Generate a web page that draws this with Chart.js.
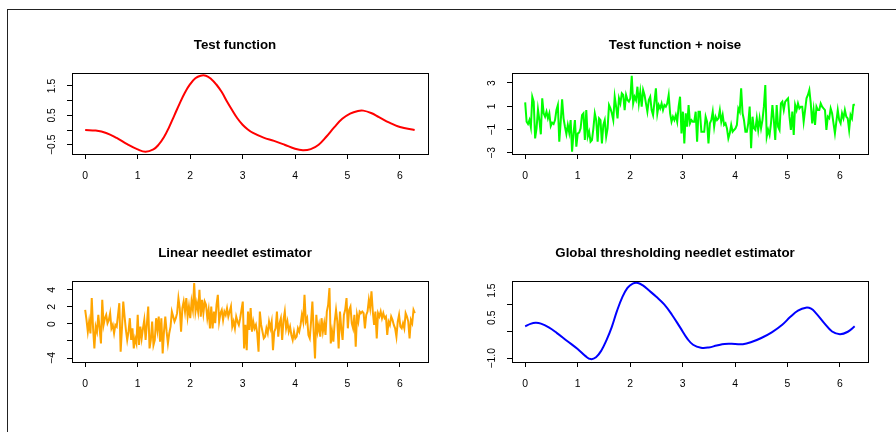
<!DOCTYPE html>
<html>
<head>
<meta charset="utf-8">
<title>Needlet estimators</title>
<script src="https://cdn.jsdelivr.net/npm/chart.js@4.4.0/dist/chart.umd.min.js"></script>
<style>
  html, body { margin: 0; padding: 0; background: #fff; }
  #page { position: relative; width: 896px; height: 432px; overflow: hidden; }
  #page canvas { position: absolute; }
  #edge { position: absolute; left: 7px; top: 9px; right: -4px; bottom: -4px;
          border-top: 1px solid #222; border-left: 1px solid #222; }
</style>
</head>
<body>
<div id="page">
  <div id="edge"></div>
  <canvas id="testFn" width="448" height="216" style="left:0;top:0"></canvas>
  <canvas id="noisyFn" width="448" height="216" style="left:440px;top:0"></canvas>
  <canvas id="linearFn" width="448" height="216" style="left:0;top:208px"></canvas>
  <canvas id="globalFn" width="448" height="216" style="left:440px;top:208px"></canvas>
</div>
<script>
// x axis of every panel
const xTicks = [0, 1, 2, 3, 4, 5, 6];
const xMin = -0.2513, xMax = 6.5345;

// Test function (smooth, red)
const testX = [0, 0.2, 0.4, 0.6, 0.8, 1.0, 1.15, 1.3, 1.4, 1.5, 1.6, 1.7, 1.8, 1.9, 2.0, 2.1, 2.2, 2.3, 2.4, 2.5,
  2.6, 2.7, 2.8, 2.9, 3.0, 3.1, 3.2, 3.4, 3.6, 3.8, 4.0, 4.15, 4.3, 4.45, 4.6, 4.75, 4.9, 5.05, 5.2, 5.3,
  5.45, 5.6, 5.8, 6.0, 6.28];
const testY = [0.0, -0.02, -0.1, -0.27, -0.48, -0.66, -0.74, -0.66, -0.5, -0.25, 0.1, 0.5, 0.9, 1.27, 1.56, 1.76, 1.85, 1.85, 1.74, 1.55,
  1.3, 0.98, 0.68, 0.4, 0.18, 0.02, -0.1, -0.26, -0.37, -0.5, -0.64, -0.69, -0.65, -0.5, -0.22, 0.1, 0.38, 0.56, 0.65, 0.66,
  0.58, 0.44, 0.25, 0.1, 0.0];
const testYTicks = [-0.5, 0, 0.5, 1, 1.5];
const testYLabels = [-0.5, 0.5, 1.5];

// Test function + noise (green), samples evenly spread over [0, 2*pi]
const noisyY = [1.34, -0.32, -0.52, -0.18, -0.80, 1.82, 1.40, -1.75, -0.89, 0.74,
  -0.18, -1.40, 1.68, 0.40, 0.11, 0.54, -0.03, 0.40, -0.69, -0.40,
  -0.52, -0.18, 0.68, 1.11, -2.03, -0.32, 1.60, -0.03, -0.75, -1.38,
  -0.60, -1.26, -0.18, -2.89, -1.32, -0.18, -2.46, -1.32, -1.26, -0.89,
  0.25, 0.40, -1.89, 0.68, -1.60, -1.18, -2.03, -1.89, -0.89, 0.40,
  -0.18, -2.03, -0.03, -0.18, -2.18, -0.60, -0.18, -1.60, -0.89, 1.11,
  0.82, 0.40, -0.18, 1.82, 0.97, -0.03, 1.68, 1.25, 2.11, 1.97,
  0.68, 1.97, 1.54, 1.40, 1.68, 3.62, 1.25, 1.82, 1.54, 2.68,
  1.25, 2.25, 0.97, 2.40, 1.97, 1.25, 0.54, 1.54, 1.82, 0.68,
  0.25, 1.40, 2.54, 0.40, 1.11, 0.82, 1.25, 0.68, 1.11, 0.97,
  1.25, 1.97, 0.40, -0.32, 0.11, -0.18, 0.25, -0.32, 0.97, 1.82,
  -1.32, 0.54, -2.18, 0.40, -0.75, 1.11, -0.46, -0.18, -0.32, -0.32,
  0.54, -2.03, 0.54, 0.54, -1.18, -1.18, -1.18, 0.11, -0.32,
  -2.18, -0.46, -0.18, 0.54, -0.75, 0.11, -0.18, -0.03, 0.68, -0.32,
  0.25, -0.60, -0.46, -0.89, -1.75, -1.32, -0.60, -1.18, -1.03, -0.89,
  -0.60, 0.82, 0.54, 2.54, 0.40, -0.18, -1.18, -1.18, -0.46, 0.97,
  -2.60, 0.11, -0.89, -1.03, -0.03, -1.03, -0.03, -0.89, -0.18, 0.97,
  2.82, -1.60, -1.03, -1.46, -0.46, 1.11, -0.18, -1.89, 1.11, -0.75,
  -1.03, 1.25, 1.40, 0.68, 1.40, 1.54, 1.68, 0.11, -1.03, 0.54,
  -1.46, 1.11, 0.68, 1.25, 0.82, 0.97, 0.97, -0.32, 0.68, 1.68,
  1.97, 2.40, 1.25, -0.46, 0.68, -0.60, 0.97, 0.68, 0.68, 1.25,
  0.97, 0.82, 0.68, -1.03, 0.11, -0.03, 0.82, 0.40, -0.46, -1.32,
  -0.32, 0.68, -0.18, -0.46, 0.40, -0.03, 0.68, 0.11, -0.03, -1.03,
  0.25, -0.03, 1.11, 1.17];
const noisyYTicks = [-3, -2, -1, 0, 1, 2, 3];
const noisyYLabels = [-3, -1, 1, 3];

// Linear needlet estimator (orange), samples evenly spread over [0, 2*pi]
const linearY = [1.66, 0.48, -0.90, 0.28, -1.10, 3.04,
  -0.51, -2.87, -0.31, -0.90, 1.07, -0.51, -2.28, 2.84, -0.11,
  0.68, 1.07, 0.09, 0.48, 1.27, -0.51, -0.11, -1.10, -0.11, -0.31,
  1.07, 2.45, -3.26, -0.51, 2.64, 0.87, -0.70, -1.88, -0.90,
  0.68, -1.88, -0.51, -2.87, -1.69, -2.28, 1.07, -2.47, -0.31, -1.69,
  -0.51, 0.48, -1.88, 0.09, 2.05, -2.87, -1.88, 0.28, -2.47, -1.88,
  0.68, -0.70, 0.87, -2.08, 0.68, -3.46, -0.90, 0.87, -0.90, -2.28,
  -1.10, -0.31, 1.46, 0.87, 0.28, 0.68, 1.27, 3.04, 1.86, -0.90,
  1.86, 2.64, 1.46, 3.04, 0.87, 2.05, 0.68, 2.64, 1.66, 4.81,
  1.46, 2.45, 1.46, 4.02, 0.87, 2.84, 1.27, 2.64, 2.25, 0.68,
  1.66, -0.51, 2.05, -0.51, 1.46, 0.09, 2.25, 3.43, 0.28, 1.27,
  1.66, 0.48, 1.46, 1.07, 1.86, 0.87, 1.46, 2.05, -0.31, 0.28,
  -0.51, 0.87, 0.28, -0.11, 0.68, 1.66, 2.64, -2.87, -0.11, -3.07,
  1.46, -0.70, 1.86, -0.90, 0.28, -0.51, -0.11,
  -1.10, -3.26, 1.46, -0.11, -0.90, -1.69, -1.49, -0.51, -1.10,
  0.28, -0.51, 0.28, -3.07, -0.90, -0.51, 1.46, -1.49, 0.09, 0.68,
  -1.88, 0.48, 1.46, -0.51, 0.28, -0.90, -0.31, -1.29, -1.88, -0.90,
  -1.69, -1.49, -0.51, -0.90, -0.11, 1.07, 0.28, 3.43, 0.28, 0.68,
  -1.29, -1.69, 0.28, 2.64, -0.90, -4.05, 1.07, -0.90, -0.11, -1.49,
  0.68, -0.90, 0.09, -1.29, 1.46, 2.25, 4.22, -2.28, -0.90, -2.08,
  0.28, 1.66, 0.28, -2.87, 1.46, -0.51, -1.88, 1.07, 1.66, 3.04,
  -0.51, 1.66, 2.05, 0.09, -0.51, 1.07, -2.67, 1.07, 0.28, 1.46,
  1.27, 1.46, 1.27, -0.51, 1.07, 1.46, 2.84, 1.86, 3.83, 1.46,
  -0.11, 1.46, -1.69, 1.27, 0.87, 1.46, 0.68, 1.27, 0.68, 0.87,
  -1.29, 0.28, -0.11, 0.87, 0.48, -0.11, -0.51, -1.49, 0.28, 1.07,
  -0.31, -0.51, 0.09, -0.51, 1.27, 0.87, 0.28, -1.69, 0.48, 0.09,
  1.66, 1.27];
const linearYTicks = [-4, -2, 0, 2, 4];
const linearYLabels = [-4, 0, 2, 4];

// Global thresholding needlet estimator (smooth, blue)
const globalX = [0, 0.1, 0.2, 0.3, 0.45, 0.6, 0.8, 1.0, 1.15, 1.25, 1.35, 1.45, 1.55, 1.65, 1.75, 1.85, 1.95, 2.05, 2.15, 2.25,
  2.35, 2.5, 2.65, 2.8, 2.95, 3.1, 3.2, 3.35, 3.5, 3.65, 3.8, 4.0, 4.15, 4.3, 4.5, 4.7, 4.9, 5.05, 5.2, 5.35,
  5.45, 5.55, 5.7, 5.85, 6.0, 6.15, 6.28];
const globalY = [0.18, 0.27, 0.31, 0.28, 0.14, -0.06, -0.36, -0.66, -0.92, -1.03, -0.96, -0.72, -0.33, 0.15, 0.75, 1.25, 1.6, 1.76, 1.78, 1.68,
  1.52, 1.27, 0.99, 0.6, 0.15, -0.3, -0.5, -0.61, -0.6, -0.53, -0.47, -0.47, -0.48, -0.41, -0.25, -0.04, 0.24, 0.52, 0.76, 0.87,
  0.83, 0.65, 0.3, -0.01, -0.11, -0.02, 0.18];
const globalYTicks = [-1, -0.5, 0, 0.5, 1, 1.5];
const globalYLabels = [-1, 0.5, 1.5];

const FONT = '"Liberation Sans", Arial, Helvetica, sans-serif';
Chart.defaults.font.family = FONT;

function fmt(v, dec) {
  return v.toFixed(dec).replace('-', '\u2212');
}

function evenGrid(values) {
  const step = 2 * Math.PI / (values.length - 1);
  return values.map((_, i) => i * step);
}

// box around the plot region plus R-style rotated y labels
const rFrame = {
  id: 'rFrame',
  afterDraw(chart, args, opts) {
    const { ctx, chartArea: a } = chart;
    const y = chart.scales.y;
    ctx.save();
    ctx.strokeStyle = '#000';
    ctx.lineWidth = 1;
    ctx.strokeRect(Math.round(a.left) + 0.5, Math.round(a.top) + 0.5,
      Math.round(a.right - a.left), Math.round(a.bottom - a.top));
    ctx.fillStyle = '#000';
    ctx.font = '10.4px ' + FONT;
    ctx.textAlign = 'center';
    ctx.textBaseline = 'middle';
    opts.labels.forEach(v => {
      ctx.save();
      ctx.translate(a.left - 20, y.getPixelForValue(v));
      ctx.rotate(-Math.PI / 2);
      ctx.fillText(fmt(v, opts.decimals), 0, 0);
      ctx.restore();
    });
    ctx.restore();
  }
};

function drawPanel(id, title, xs, ys, color, smooth, yMin, yMax, yTicks, yLabels, dec) {
  new Chart(document.getElementById(id), {
    type: 'line',
    data: {
      datasets: [{
        data: xs.map((x, i) => ({ x: x, y: ys[i] })),
        borderColor: color,
        borderWidth: 2,
        pointRadius: 0,
        fill: false,
        tension: smooth ? 0.4 : 0
      }]
    },
    options: {
      responsive: false,
      animation: false,
      devicePixelRatio: 1,
      layout: { padding: { left: 42, right: 20, top: 0, bottom: 32 } },
      plugins: {
        legend: { display: false },
        tooltip: { enabled: false },
        title: {
          display: true,
          text: title,
          color: '#000',
          font: { size: 13.3, weight: 'bold' },
          padding: { top: 37, bottom: 20 }
        },
        rFrame: { labels: yLabels, decimals: dec }
      },
      scales: {
        x: {
          type: 'linear',
          min: xMin,
          max: xMax,
          afterBuildTicks: s => { s.ticks = xTicks.map(v => ({ value: v })); },
          afterFit: s => { s.height = 30; },
          border: { display: false },
          grid: { drawOnChartArea: false, drawTicks: true, tickLength: 5, color: '#000' },
          ticks: { color: '#000', font: { size: 10.4 }, padding: 11, maxRotation: 0,
                   callback: v => String(v) }
        },
        y: {
          min: yMin,
          max: yMax,
          afterBuildTicks: s => { s.ticks = yTicks.map(v => ({ value: v })); },
          afterFit: s => { s.width = 30; },
          border: { display: false },
          grid: { drawOnChartArea: false, drawTicks: true, tickLength: 5, color: '#000' },
          ticks: { callback: () => '' }
        }
      }
    },
    plugins: [rFrame]
  });
}

drawPanel('testFn', 'Test function', testX, testY, '#ff0000', true,
  -0.817, 1.943, testYTicks, testYLabels, 1);
drawPanel('noisyFn', 'Test function + noise', evenGrid(noisyY), noisyY, '#00ff00', false,
  -3.09, 3.86, noisyYTicks, noisyYLabels, 0);
drawPanel('linearFn', 'Linear needlet estimator', evenGrid(linearY), linearY, '#ffa500', false,
  -4.47, 5.06, linearYTicks, linearYLabels, 0);
drawPanel('globalFn', 'Global thresholding needlet estimator', globalX, globalY, '#0000ff', true,
  -1.137, 1.855, globalYTicks, globalYLabels, 1);
</script>
</body>
</html>
